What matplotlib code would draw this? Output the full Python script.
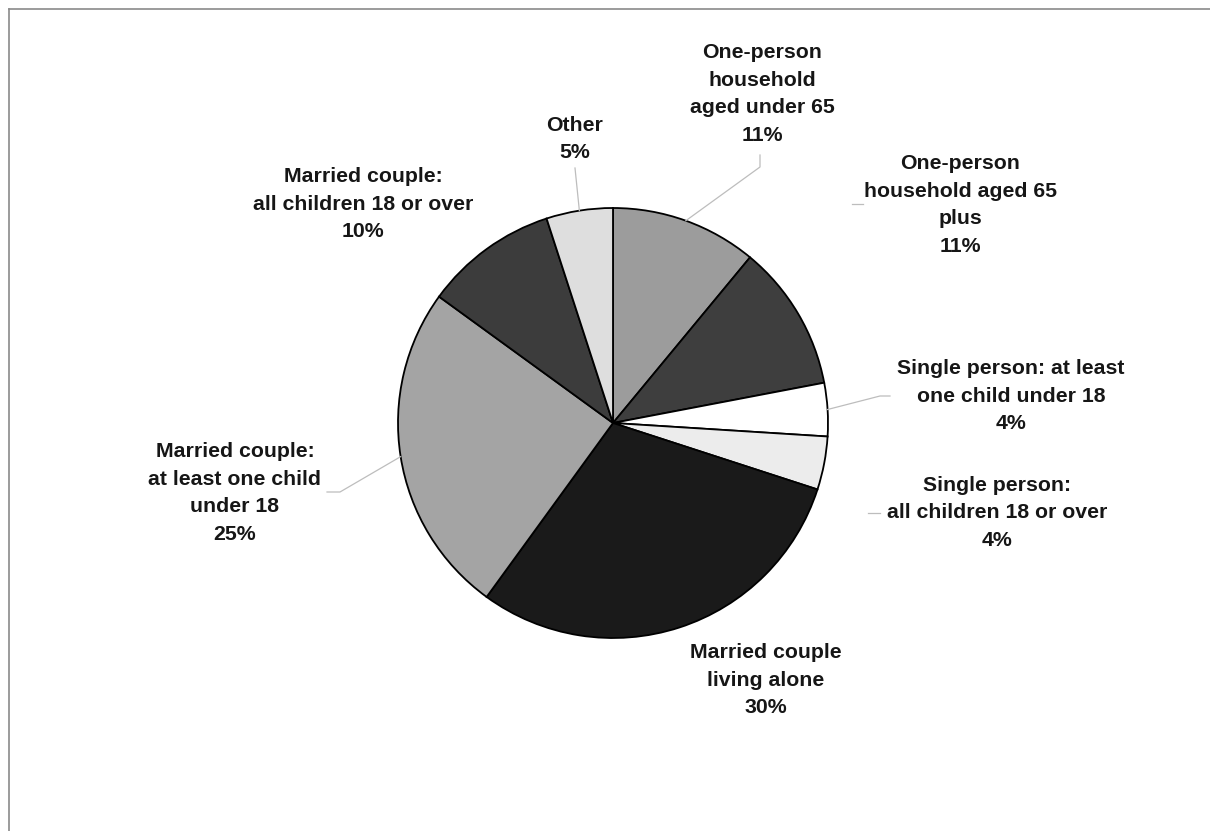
import numpy as np
import matplotlib
matplotlib.use("Agg")
import matplotlib.pyplot as plt

# household types, clockwise from 12 o'clock
categories = [
    "One-person\nhousehold\naged under 65",
    "One-person\nhousehold aged 65\nplus",
    "Single person: at least\none child under 18",
    "Single person:\nall children 18 or over",
    "Married couple\nliving alone",
    "Married couple:\nat least one child\nunder 18",
    "Married couple:\nall children 18 or over",
    "Other",
]
shares = [11, 11, 4, 4, 30, 25, 10, 5]
fills = ["#9c9c9c", "#3e3e3e", "#ffffff", "#ececec",
         "#1a1a1a", "#a4a4a4", "#3c3c3c", "#dedede"]

# label centres (pixels, y up) and leader line points
label_pos = [(762, 737), (960, 626), (1011, 435), (997, 318),
             (766, 151), (235, 338), (363, 627), (575, 692)]
leaders = [
    ("pie", [(760, 664), (760, 676)]),
    ("stub", [(852, 627), (863, 627)]),
    ("pie", [(880, 435), (890, 435)]),
    ("stub", [(868, 318), (880, 318)]),
    None,
    ("pie", [(340, 339), (327, 339)]),
    None,
    ("pie", [(575, 663)]),
]

W, H = 1210, 831
cx, cy, r = 613, 408, 215

plt.rcParams['font.family'] = ['Liberation Sans', 'DejaVu Sans']

fig = plt.figure(figsize=(W / 100, H / 100), dpi=100)
ax = fig.add_axes([0, 0, 1, 1])

wedges, _ = ax.pie(shares, colors=fills, startangle=90, counterclock=False,
                   center=(cx, cy), radius=r, frame=True,
                   wedgeprops=dict(edgecolor="black", linewidth=1.3))

for i, (w, name, v) in enumerate(zip(wedges, categories, shares)):
    x, y = label_pos[i]
    ax.text(x, y, f"{name}\n{v}%", ha="center", va="center", fontsize=15.3,
            fontweight="bold", color="#161616", linespacing=1.58)
    lead = leaders[i]
    if lead is None:
        continue
    kind, pts = lead
    if kind == "pie":
        mid = np.deg2rad((w.theta1 + w.theta2) / 2)
        pts = [(cx + r * np.cos(mid), cy + r * np.sin(mid))] + pts
    xs, ys = zip(*pts)
    ax.plot(xs, ys, color="#bdbdbd", linewidth=0.9)

# thin page frame along the top and left edges
ax.plot([9, W], [H - 9, H - 9], color="#8a8a8a", linewidth=1.2, clip_on=False)
ax.plot([9, 9], [0, H - 9], color="#8a8a8a", linewidth=1.2, clip_on=False)

ax.set_xlim(0, W)
ax.set_ylim(0, H)
ax.set_aspect("equal")
ax.axis("off")

fig.savefig("out.png", dpi=100, facecolor="white")
